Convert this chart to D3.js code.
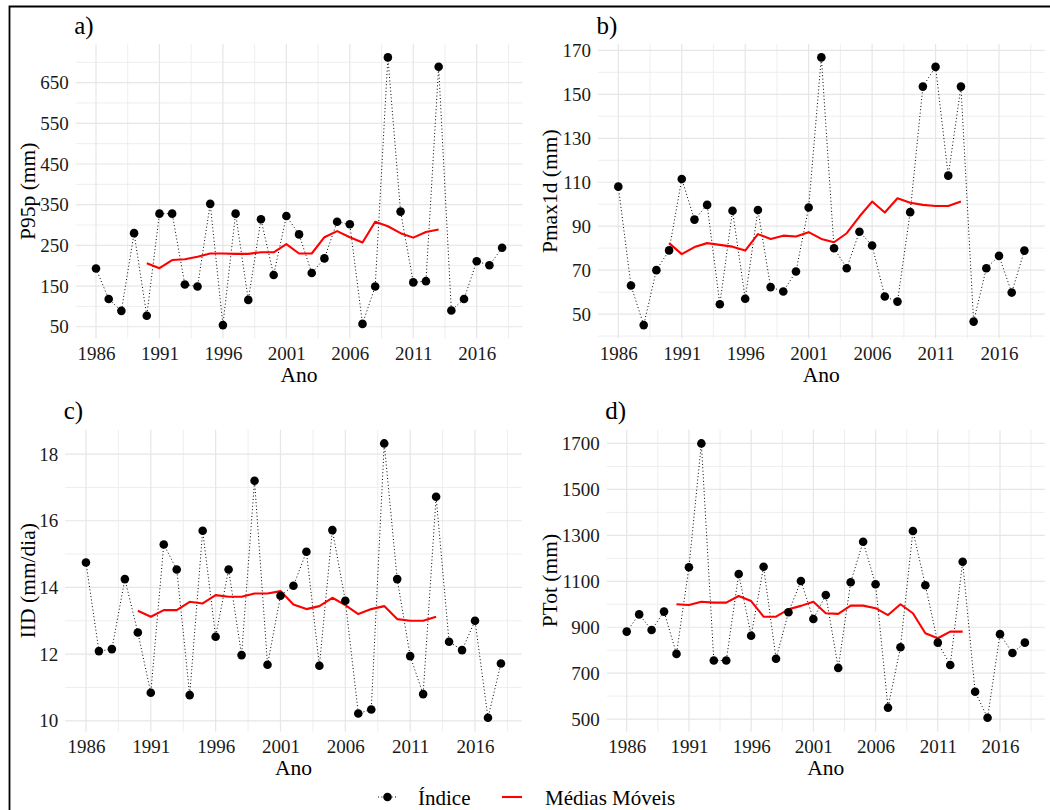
<!DOCTYPE html>
<html>
<head>
<meta charset="utf-8">
<script src="https://cdn.jsdelivr.net/npm/d3@7"></script>
</head>
<body style="margin:0; background:#fff">
<div id="chart"></div>
<script>
// years of the series and of the moving averages
var years = [1986, 1987, 1988, 1989, 1990, 1991, 1992, 1993, 1994, 1995, 1996,
    1997, 1998, 1999, 2000, 2001, 2002, 2003, 2004, 2005, 2006, 2007, 2008,
    2009, 2010, 2011, 2012, 2013, 2014, 2015, 2016, 2017, 2018];
var maYears = [1990, 1991, 1992, 1993, 1994, 1995, 1996, 1997, 1998, 1999, 2000,
    2001, 2002, 2003, 2004, 2005, 2006, 2007, 2008, 2009, 2010, 2011, 2012, 2013];
var yearTicks = [1986, 1991, 1996, 2001, 2006, 2011, 2016];

// a) P95p
var p95p = [193, 118, 89, 280, 77, 328, 328, 154, 149, 352, 54, 328, 116, 314, 177,
    322, 277, 182, 218, 308, 302, 57, 149, 712, 333, 159, 162, 689, 90, 118, 211, 201, 244];
var p95pMM = [206, 194, 214, 216, 222, 230, 230, 229, 229, 233, 233, 253, 230, 230,
    270, 285, 270, 257, 308, 297, 280, 269, 283, 289];
var p95pTicks = [50, 150, 250, 350, 450, 550, 650];

// b) Pmax1d
var pmax1d = [108, 63, 45, 70, 79, 111.5, 93, 99.7, 54.5, 97, 57, 97.4, 62.3, 60.3, 69.4,
    98.5, 166.8, 80, 70.9, 87.5, 81.2, 58, 55.7, 96.4, 153.5, 162.5, 113, 153.5, 46.6,
    70.9, 76.5, 59.8, 78.9];
var pmax1dMM = [82.3, 77.3, 80.5, 82.3, 81.5, 80.7, 78.9, 86.4, 84.2, 85.7, 85.3, 87.3,
    84.2, 82.7, 86.8, 94.4, 101.2, 96.2, 102.7, 100.7, 99.7, 99.2, 99.2, 101.2];
var pmax1dTicks = [50, 70, 90, 110, 130, 150, 170];

// c) IID
var iid = [14.75, 12.09, 12.15, 14.25, 12.65, 10.84, 15.29, 14.54, 10.77, 15.7, 12.52,
    14.54, 11.97, 17.2, 11.68, 13.75, 14.05, 15.07, 11.65, 15.72, 13.6, 10.22, 10.34,
    18.32, 14.25, 11.94, 10.8, 16.72, 12.37, 12.12, 13.0, 10.09, 11.72];
var iidMM = [13.3, 13.12, 13.32, 13.32, 13.57, 13.52, 13.77, 13.72, 13.72, 13.82, 13.82,
    13.89, 13.49, 13.35, 13.44, 13.69, 13.47, 13.2, 13.35, 13.44, 13.05, 13.0, 13.0, 13.12];
var iidTicks = [10, 12, 14, 16, 18];

// d) PTot
var ptot = [881, 956, 888, 968, 784, 1161, 1700, 755, 755, 1132, 863, 1163, 763, 965,
    1101, 936, 1040, 723, 1096, 1272, 1087, 550, 813, 1319, 1083, 833, 736, 1185, 619,
    506, 870, 788, 833];
var ptotMM = [1000, 997, 1011, 1007, 1007, 1036, 1014, 946, 946, 978, 993, 1011, 961,
    958, 994, 994, 983, 953, 1000, 961, 874, 852, 881, 881];
var ptotTicks = [500, 700, 900, 1100, 1300, 1500, 1700];

var panels = [
    {tag: 'a)', title: 'P95p (mm)', values: p95p, ma: p95pMM, ticks: p95pTicks,
        left: 75.7, right: 522.4, top: 44, bottom: 338.5, titleX: 34.5},
    {tag: 'b)', title: 'Pmax1d (mm)', values: pmax1d, ma: pmax1dMM, ticks: pmax1dTicks,
        left: 598, right: 1044.7, top: 44, bottom: 338.5, titleX: 556.5},
    {tag: 'c)', title: 'IID (mm/dia)', values: iid, ma: iidMM, ticks: iidTicks,
        left: 65.2, right: 521.7, top: 429.7, bottom: 731.5, titleX: 34.5},
    {tag: 'd)', title: 'PTot (mm)', values: ptot, ma: ptotMM, ticks: ptotTicks,
        left: 606.8, right: 1044.8, top: 429.7, bottom: 731.5, titleX: 556.5}
];

var FONT = '"Liberation Serif", "Times New Roman", serif';
var W = 1050, H = 810;
var svg = d3.select('#chart').append('svg')
    .attr('width', W)
    .attr('height', H)
    .style('display', 'block')
    .style('font-family', FONT);

// page frame
svg.append('path')
    .attr('d', 'M9.5,810 V6.5 H1050')
    .attr('fill', 'none')
    .attr('stroke', '#000')
    .attr('stroke-width', 1.8);

// ggplot style expanded domain
function expand(ext, mult) {
    var d = (ext[1] - ext[0]) * mult;
    return [ext[0] - d, ext[1] + d];
}

panels.forEach(function(p){
    var allY = p.values.concat(p.ma);
    var x = d3.scaleLinear()
        .domain(expand(d3.extent(years), 0.05))
        .range([p.left, p.right]);
    var y = d3.scaleLinear()
        .domain(expand(d3.extent(allY), 0.05))
        .range([p.bottom, p.top]);

    var g = svg.append('g');

    // minor grid, halfway between the majors
    var xStep = yearTicks[1] - yearTicks[0];
    var xMinor = [];
    for (var i = -1; i < yearTicks.length; i++) {
        var v = yearTicks[0] + (i + 0.5) * xStep;
        if (v >= x.domain()[0] && v <= x.domain()[1]) xMinor.push(v);
    }
    var yStep = p.ticks[1] - p.ticks[0];
    var yMinor = [];
    for (var j = -1; j < p.ticks.length; j++) {
        var u = p.ticks[0] + (j + 0.5) * yStep;
        if (u >= y.domain()[0] && u <= y.domain()[1]) yMinor.push(u);
    }

    g.selectAll('.vminor').data(xMinor).enter().append('line')
        .attr('x1', function(d){ return x(d) }).attr('x2', function(d){ return x(d) })
        .attr('y1', p.top).attr('y2', p.bottom)
        .attr('stroke', '#ececec').attr('stroke-width', 0.9);
    g.selectAll('.hminor').data(yMinor).enter().append('line')
        .attr('y1', function(d){ return y(d) }).attr('y2', function(d){ return y(d) })
        .attr('x1', p.left).attr('x2', p.right)
        .attr('stroke', '#ececec').attr('stroke-width', 0.9);
    g.selectAll('.vmajor').data(yearTicks).enter().append('line')
        .attr('x1', function(d){ return x(d) }).attr('x2', function(d){ return x(d) })
        .attr('y1', p.top).attr('y2', p.bottom)
        .attr('stroke', '#e6e6e6').attr('stroke-width', 1.2);
    g.selectAll('.hmajor').data(p.ticks).enter().append('line')
        .attr('y1', function(d){ return y(d) }).attr('y2', function(d){ return y(d) })
        .attr('x1', p.left).attr('x2', p.right)
        .attr('stroke', '#e6e6e6').attr('stroke-width', 1.2);

    // axes (labels only, no lines)
    var xAxis = d3.axisBottom(x).tickValues(yearTicks).tickFormat(d3.format('d'))
        .tickSize(0).tickPadding(8);
    var yAxis = d3.axisLeft(y).tickValues(p.ticks).tickFormat(d3.format('d'))
        .tickSize(0).tickPadding(7);

    var gx = g.append('g')
        .attr('transform', 'translate(0,' + p.bottom + ')')
        .call(xAxis);
    var gy = g.append('g')
        .attr('transform', 'translate(' + p.left + ',0)')
        .call(yAxis);
    [gx, gy].forEach(function(a){
        a.attr('font-family', null).attr('font-size', null);
        a.select('.domain').remove();
        a.selectAll('text')
            .style('font-family', FONT)
            .attr('font-size', 19)
            .attr('fill', '#1a1a1a');
    });
    gx.selectAll('text').attr('dy', null).attr('y', 21.5);

    // titles
    g.append('text')
        .attr('x', (p.left + p.right) / 2)
        .attr('y', p.bottom + 43)
        .attr('text-anchor', 'middle')
        .style('font-family', FONT)
        .attr('font-size', 21.5)
        .text('Ano');
    g.append('text')
        .attr('transform', 'translate(' + p.titleX + ',' + ((p.top + p.bottom) / 2) + ') rotate(-90)')
        .attr('text-anchor', 'middle')
        .style('font-family', FONT)
        .attr('font-size', 21.5)
        .text(p.title);
    g.append('text')
        .attr('x', p.left - 1.5)
        .attr('y', p.top - 10.5)
        .style('font-family', FONT)
        .attr('font-size', 25)
        .text(p.tag);

    // index series: dotted line and points
    var pts = years.map(function(d, i){ return [d, p.values[i]] });
    var line = d3.line()
        .x(function(d){ return x(d[0]) })
        .y(function(d){ return y(d[1]) });
    g.append('path')
        .datum(pts)
        .attr('d', line)
        .attr('fill', 'none')
        .attr('stroke', '#000')
        .attr('stroke-width', 1)
        .attr('stroke-dasharray', '1,2.4');

    // moving average
    var maPts = maYears.map(function(d, i){ return [d, p.ma[i]] });
    g.append('path')
        .datum(maPts)
        .attr('d', line)
        .attr('fill', 'none')
        .attr('stroke', '#ff0000')
        .attr('stroke-width', 2.1)
        .attr('stroke-linejoin', 'round');

    g.selectAll('.dot').data(pts).enter().append('circle')
        .attr('cx', function(d){ return x(d[0]) })
        .attr('cy', function(d){ return y(d[1]) })
        .attr('r', 4.3)
        .attr('fill', '#000');
});

// legend
var lg = svg.append('g').attr('transform', 'translate(0,797)');
lg.append('line')
    .attr('x1', 378).attr('x2', 397).attr('y1', 0).attr('y2', 0)
    .attr('stroke', '#000').attr('stroke-width', 1).attr('stroke-dasharray', '1,2.4');
lg.append('circle').attr('cx', 387.5).attr('cy', 0).attr('r', 4.3).attr('fill', '#000');
lg.append('text').attr('x', 418).attr('y', 7.5)
    .style('font-family', FONT).attr('font-size', 21).text('Índice');
lg.append('line')
    .attr('x1', 502).attr('x2', 522).attr('y1', 0).attr('y2', 0)
    .attr('stroke', '#ff0000').attr('stroke-width', 2.1);
lg.append('text').attr('x', 545).attr('y', 7.5)
    .style('font-family', FONT).attr('font-size', 21).text('Médias Móveis');
</script>
</body>
</html>
